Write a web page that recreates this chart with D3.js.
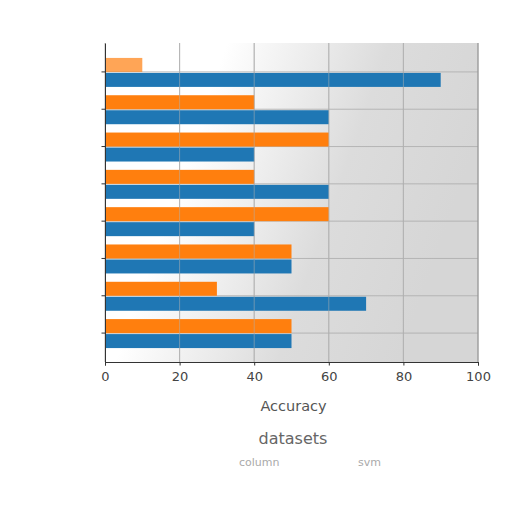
<!DOCTYPE html>
<html>
<head>
<meta charset="utf-8">
<script src="https://cdn.jsdelivr.net/npm/d3@7"></script>
<style>
  body { margin: 0; background: #fff; }
  svg text { font-family: "DejaVu Sans", sans-serif; }
</style>
</head>
<body>
<div id="chart"></div>
<script>
// categories, top to bottom (labels are not shown on the chart)
var categories = ["g1", "g2", "g3", "g4", "g5", "g6", "g7", "g8"];
var orangeValues = [10, 40, 60, 40, 60, 50, 30, 50];
var blueValues = [90, 60, 40, 60, 40, 50, 70, 50];
var xTicks = [0, 20, 40, 60, 80, 100];
var legendItems = ["column", "svm"];

var W = 512, H = 512;
var mLeft = 105, mRight = 478, mTop = 43, mBottom = 362;

var svg = d3.select("#chart").append("svg")
	.attr("width", W)
	.attr("height", H);

var x = d3.scaleLinear().domain([0, 100]).range([mLeft, mRight]);
var y = d3.scaleBand().domain(categories).range([mTop, mBottom])
	.paddingInner(0.25).paddingOuter(0.4);
var sub = d3.scaleBand().domain(["orange", "blue"]).range([0, y.bandwidth()]);

// plot background, washed grey toward the right like the reference
var grad = svg.append("defs").append("linearGradient")
	.attr("id", "bg").attr("x1", "0").attr("x2", "1").attr("y1", "0").attr("y2", "0.3");
grad.append("stop").attr("offset", "0.3").attr("stop-color", "#ffffff");
grad.append("stop").attr("offset", "0.7").attr("stop-color", "#dcdcdc");
grad.append("stop").attr("offset", "1").attr("stop-color", "#d6d6d6");
svg.append("rect")
	.attr("x", mLeft).attr("y", mTop)
	.attr("width", mRight - mLeft).attr("height", mBottom - mTop)
	.attr("fill", "url(#bg)");

// grid
svg.append("g").selectAll("line.vgrid")
	.data(xTicks)
	.enter().append("line")
	.attr("x1", function(d){ return x(d); })
	.attr("x2", function(d){ return x(d); })
	.attr("y1", mTop).attr("y2", mBottom)
	.attr("stroke", "#b0b0b0").attr("stroke-width", 0.9);
svg.append("g").selectAll("line.hgrid")
	.data(categories)
	.enter().append("line")
	.attr("x1", mLeft).attr("x2", mRight)
	.attr("y1", function(d){ return y(d) + y.bandwidth() / 2; })
	.attr("y2", function(d){ return y(d) + y.bandwidth() / 2; })
	.attr("stroke", "#b0b0b0").attr("stroke-width", 0.9);

// bars
var rows = categories.map(function(c, i){
	return {cat: c, orange: orangeValues[i], blue: blueValues[i]};
});
var groups = svg.append("g").selectAll("g.row")
	.data(rows)
	.enter().append("g")
	.attr("transform", function(d){ return "translate(0," + y(d.cat) + ")"; });
groups.append("rect")
	.attr("x", x(0))
	.attr("y", sub("orange"))
	.attr("height", sub.bandwidth())
	.attr("width", function(d){ return x(d.orange) - x(0); })
	.attr("fill", "#ff7f0e")
	.attr("opacity", function(d, i){ return i === 0 ? 0.7 : 1; });
groups.append("rect")
	.attr("x", x(0))
	.attr("y", sub("blue") + 1)
	.attr("height", sub.bandwidth())
	.attr("width", function(d){ return x(d.blue) - x(0); })
	.attr("fill", "#1f77b4");

// grid lines show through the bars faintly
svg.append("g").selectAll("line.vgrid2")
	.data(xTicks.slice(1, -1))
	.enter().append("line")
	.attr("x1", function(d){ return x(d); })
	.attr("x2", function(d){ return x(d); })
	.attr("y1", mTop).attr("y2", mBottom)
	.attr("stroke", "#b0b0b0").attr("stroke-width", 0.9).attr("opacity", 0.6);

// axes
var xAxis = svg.append("g")
	.attr("transform", "translate(0," + mBottom + ")")
	.call(d3.axisBottom(x).tickValues(xTicks).tickSize(3.5).tickPadding(6));
xAxis.select(".domain").attr("stroke", "#333");
xAxis.selectAll(".tick line").attr("stroke", "#333");
xAxis.selectAll("text").attr("font-size", 13).attr("fill", "#444")
	.attr("font-family", "DejaVu Sans, sans-serif");

var yAxis = svg.append("g")
	.attr("transform", "translate(" + mLeft + ",0)")
	.call(d3.axisLeft(y).tickSize(3.5).tickSizeOuter(0).tickFormat(""));
yAxis.select(".domain").attr("stroke", "#333");
yAxis.selectAll(".tick line").attr("stroke", "#333");

// right spine
svg.append("line").attr("x1", mRight).attr("x2", mRight).attr("y1", mTop).attr("y2", mBottom)
	.attr("stroke", "#888").attr("stroke-width", 0.8);

// labels
svg.append("text")
	.attr("x", (mLeft + mRight) / 2 + 2).attr("y", 411)
	.attr("text-anchor", "middle")
	.attr("font-size", 14.5).attr("fill", "#555")
	.text("Accuracy");
svg.append("text")
	.attr("x", 293).attr("y", 444)
	.attr("text-anchor", "middle")
	.attr("font-size", 16).attr("fill", "#666")
	.text("datasets");
svg.append("g").selectAll("text.leg")
	.data(legendItems)
	.enter().append("text")
	.attr("x", function(d, i){ return i === 0 ? 239 : 358; })
	.attr("y", 466)
	.attr("font-size", 11).attr("fill", "#aaa")
	.text(function(d){ return d; });
</script>
</body>
</html>
